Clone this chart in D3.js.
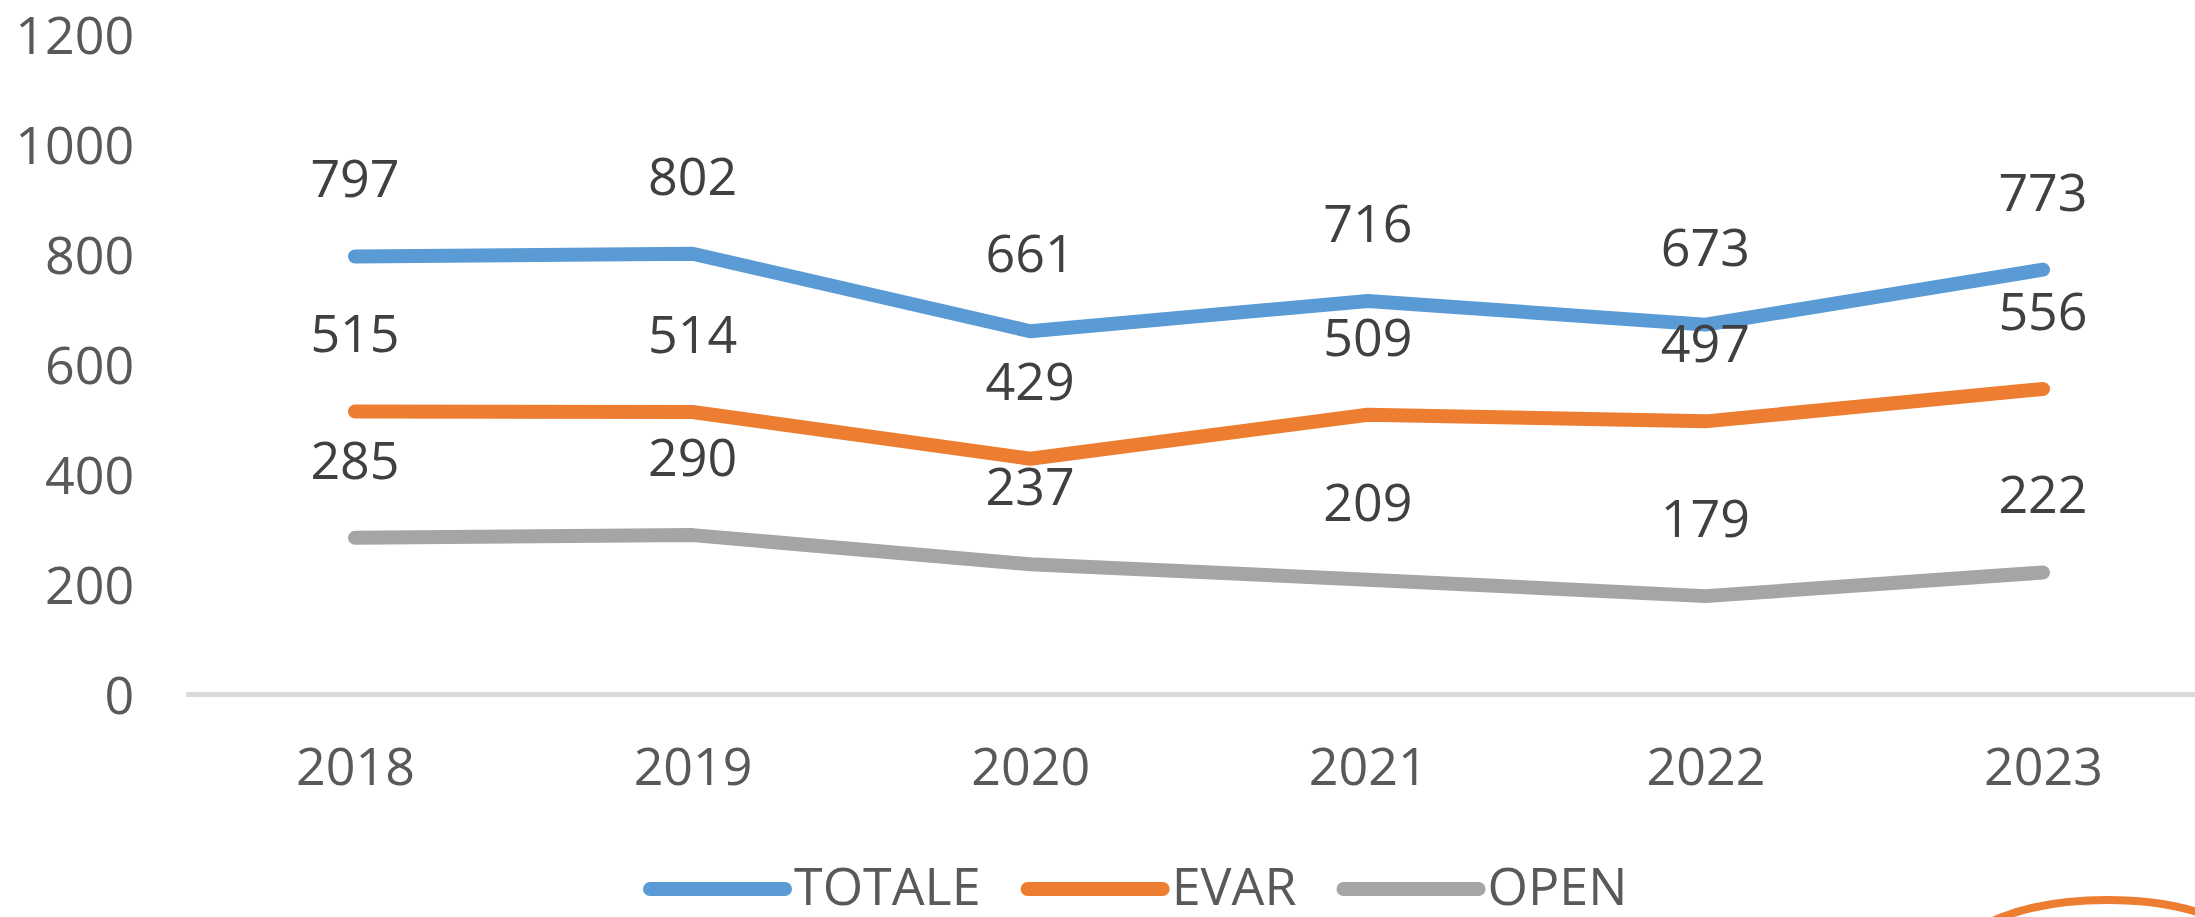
<!DOCTYPE html>
<html>
<head>
<meta charset="utf-8">
<script src="https://cdn.jsdelivr.net/npm/d3@7"></script>
<style>
  html, body { margin: 0; padding: 0; background: #ffffff; overflow: hidden; }
  svg { display: block; }
  text { font-family: "Open Sans", "Noto Sans", sans-serif; }
</style>
</head>
<body>
<svg id="chart" width="2195" height="917"></svg>
<script>
const years = ["2018", "2019", "2020", "2021", "2022", "2023"];
const totale = [797, 802, 661, 716, 673, 773];
const evar = [515, 514, 429, 509, 497, 556];
const open = [285, 290, 237, 209, 179, 222];
const yTicks = [0, 200, 400, 600, 800, 1000, 1200];
const seriesNames = ["TOTALE", "EVAR", "OPEN"];
const seriesColors = ["#5B9BD5", "#ED7D31", "#A5A5A5"];

const series = [totale, evar, open].map((vals, i) => ({
  name: seriesNames[i],
  color: seriesColors[i],
  values: vals.map((v, j) => ({ year: years[j], v }))
}));

const W = 2195, H = 917;
const svg = d3.select("#chart");
svg.append("rect").attr("width", W).attr("height", H).attr("fill", "#fff");

const x = d3.scalePoint().domain(years).range([355, 2043]);
const y = d3.scaleLinear().domain([0, 1200]).range([694.5, 35]);
const FS = 52;

// baseline
const x0 = x.range()[0] - x.step() / 2;
const x1 = x.range()[1] + x.step() / 2;
svg.append("line")
  .attr("x1", x0).attr("x2", x1)
  .attr("y1", y(0)).attr("y2", y(0))
  .attr("stroke", "#D9D9D9").attr("stroke-width", 5);

// y axis
const yAxis = svg.append("g")
  .attr("transform", `translate(${x0},0)`)
  .call(d3.axisLeft(y).tickValues(yTicks).tickFormat(d3.format("d")).tickSize(0).tickPadding(52));
yAxis.select(".domain").remove();
yAxis.selectAll("text")
  .attr("dy", "0.357em")
  .attr("fill", "#595959")
  .style("font-size", FS + "px")
  .style("font-family", '"Open Sans", sans-serif');

// x axis
const xAxis = svg.append("g")
  .attr("transform", `translate(0,${y(0)})`)
  .call(d3.axisBottom(x).tickSize(0).tickPadding(53.6));
xAxis.select(".domain").remove();
xAxis.selectAll("text")
  .attr("dy", "0.71em")
  .attr("fill", "#595959")
  .style("font-size", FS + "px")
  .style("font-family", '"Open Sans", sans-serif');

// lines
const line = d3.line().x(d => x(d.year)).y(d => y(d.v));
svg.append("g").selectAll("path")
  .data(series).join("path")
  .attr("d", d => line(d.values))
  .attr("fill", "none")
  .attr("stroke", d => d.color)
  .attr("stroke-width", 14)
  .attr("stroke-linecap", "round")
  .attr("stroke-linejoin", "round");

// data labels
series.forEach(s => {
  svg.append("g").selectAll("text")
    .data(s.values).join("text")
    .attr("x", d => x(d.year))
    .attr("y", d => y(d.v) - 59)
    .attr("text-anchor", "middle")
    .attr("fill", "#404040")
    .style("font-size", FS + "px")
    .text(d => d.v);
});

// legend
const legend = svg.append("g");
const sampleW = 135, sampleGap = 9, itemGap = 47, legendBase = 905;
const items = legend.selectAll("g").data(series).join("g");
items.append("line")
  .attr("x1", 0).attr("x2", sampleW)
  .attr("y1", legendBase - 16).attr("y2", legendBase - 16)
  .attr("stroke", d => d.color)
  .attr("stroke-width", 14)
  .attr("stroke-linecap", "round");
items.append("text")
  .attr("x", sampleW + sampleGap)
  .attr("y", legendBase)
  .attr("fill", "#595959")
  .style("font-size", FS + "px")
  .text(d => d.name);
let widths = [];
items.each(function() { widths.push(this.querySelector("text").getComputedTextLength()); });
let total = 0;
const offsets = widths.map(w => { const o = total; total += sampleW + sampleGap + w + itemGap; return o; });
const start = 650;
items.attr("transform", (d, i) => `translate(${start + offsets[i]},0)`);

// annotation ellipse (bottom right)
svg.append("ellipse")
  .attr("cx", 2107).attr("cy", 960)
  .attr("rx", 150).attr("ry", 60)
  .attr("fill", "none")
  .attr("stroke", "#ED7D31")
  .attr("stroke-width", 8);
</script>
</body>
</html>
